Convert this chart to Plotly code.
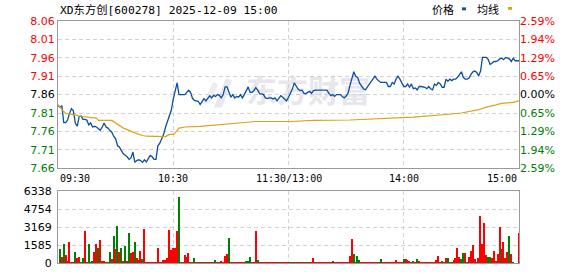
import plotly.graph_objects as go

# ---------------- data ----------------
TITLE = "XD东方创[600278] 2025-12-09 15:00"
PREV_CLOSE = 7.86
price_ticks = [7.66, 7.71, 7.76, 7.81, 7.86, 7.91, 7.96, 8.01, 8.06]
pct_labels = ["2.59%", "1.94%", "1.29%", "0.65%", "0.00%", "0.65%", "1.29%", "1.94%", "2.59%"]
vol_ticks = [0, 1585, 3169, 4754, 6338]
time_labels = ["09:30", "10:30", "11:30/13:00", "14:00", "15:00"]
time_label_min = [0, 60, 120, 180, 240]
legend_names = ["价格", "均线"]
watermark = "东方财富"

price = [
    7.831, 7.826, 7.830, 7.784, 7.784, 7.791, 7.809, 7.822, 7.816, 7.783,
    7.774, 7.800, 7.802, 7.793, 7.793, 7.791, 7.778, 7.783, 7.772, 7.774,
    7.772, 7.767, 7.763, 7.772, 7.783, 7.772, 7.769, 7.763, 7.758, 7.747,
    7.740, 7.721, 7.717, 7.708, 7.699, 7.695, 7.691, 7.684, 7.688, 7.704,
    7.676, 7.681, 7.683, 7.681, 7.676, 7.683, 7.677, 7.686, 7.695, 7.691,
    7.684, 7.684, 7.721, 7.728, 7.739, 7.752, 7.772, 7.787, 7.802, 7.818,
    7.848, 7.870, 7.892, 7.860, 7.860, 7.860, 7.860, 7.866, 7.872, 7.866,
    7.850, 7.844, 7.844, 7.842, 7.833, 7.840, 7.849, 7.843, 7.851, 7.857,
    7.851, 7.858, 7.855, 7.860, 7.858, 7.851, 7.860, 7.881, 7.881, 7.866,
    7.853, 7.860, 7.851, 7.855, 7.853, 7.860, 7.851, 7.860, 7.872, 7.881,
    7.866, 7.866, 7.871, 7.879, 7.872, 7.862, 7.862, 7.860, 7.851, 7.849,
    7.851, 7.851, 7.848, 7.851, 7.843, 7.849, 7.857, 7.853, 7.849, 7.843,
    7.853, 7.864, 7.875, 7.892, 7.884, 7.875, 7.871, 7.872, 7.864, 7.862,
    7.866, 7.869, 7.864, 7.871, 7.872, 7.872, 7.872, 7.872, 7.872, 7.872,
    7.872, 7.864, 7.857, 7.860, 7.855, 7.860, 7.860, 7.860, 7.855, 7.851,
    7.856, 7.864, 7.885, 7.902, 7.922, 7.910, 7.907, 7.891, 7.882, 7.876,
    7.873, 7.880, 7.887, 7.896, 7.900, 7.910, 7.902, 7.896, 7.893, 7.893,
    7.893, 7.893, 7.882, 7.882, 7.893, 7.889, 7.902, 7.910, 7.902, 7.893,
    7.882, 7.882, 7.889, 7.880, 7.889, 7.876, 7.878, 7.873, 7.882, 7.882,
    7.882, 7.880, 7.876, 7.882, 7.876, 7.873, 7.889, 7.885, 7.893, 7.889,
    7.880, 7.880, 7.902, 7.896, 7.902, 7.898, 7.902, 7.902, 7.907, 7.915,
    7.922, 7.907, 7.902, 7.902, 7.905, 7.915, 7.922, 7.924, 7.920, 7.911,
    7.924, 7.961, 7.961, 7.961, 7.955, 7.942, 7.946, 7.950, 7.950, 7.952,
    7.957, 7.959, 7.955, 7.961, 7.959, 7.957, 7.950, 7.959, 7.952, 7.952,
    7.952,
]

avg_min = [0, 2, 4, 7, 9, 11, 13, 16, 20, 21, 28, 30, 32, 34, 37, 40, 44, 46, 56, 58,
           60, 61, 63, 66, 74, 84, 90, 103, 121, 133, 152, 185, 202, 210, 219, 223, 228, 231, 237, 240]
avg_val = [7.833, 7.819, 7.809, 7.807, 7.805, 7.802, 7.800, 7.798, 7.796, 7.790,
           7.790, 7.783, 7.774, 7.769, 7.763, 7.756, 7.749, 7.747, 7.746, 7.752,
           7.752, 7.756, 7.769, 7.772, 7.774, 7.779, 7.781, 7.787, 7.787, 7.790,
           7.791, 7.799, 7.806, 7.810, 7.819, 7.826, 7.832, 7.836, 7.839, 7.843]

volume = [
    0, 1200, 510, 1710, 690, 140, 1860, 60, 60, 940,
    430, 510, 60, 400, 2830, 60, 1630, 60, 100, 1000,
    1630, 1280, 2060, 170, 170, 60, 60, 940, 340, 2400,
    1200, 3250, 940, 1280, 170, 1460, 100, 2650, 860, 940,
    1880, 430, 290, 1030, 340, 3000, 60, 60, 60, 60,
    60, 60, 1280, 60, 60, 230, 230, 430, 2910, 1110,
    1280, 1280, 2830, 5820, 60, 60, 690, 510, 860, 60,
    60, 430, 60, 60, 60, 60, 60, 60, 60, 60,
    60, 60, 230, 60, 60, 170, 60, 600, 770, 2230,
    60, 60, 60, 60, 60, 60, 60, 60, 170, 170,
    510, 60, 60, 2830, 260, 60, 60, 60, 60, 60,
    60, 60, 60, 60, 60, 60, 60, 60, 60, 60,
    60, 60, 60, 60, 60, 60, 60, 60, 60, 60,
    60, 60, 60, 430, 60, 60, 60, 60, 60, 60,
    60, 60, 60, 170, 60, 60, 60, 60, 60, 60,
    60, 60, 630, 2140, 800, 60, 600, 230, 60, 60,
    60, 60, 60, 60, 60, 60, 60, 60, 340, 60,
    60, 60, 60, 60, 60, 60, 230, 60, 60, 60,
    340, 340, 230, 110, 60, 140, 60, 340, 170, 60,
    60, 60, 60, 60, 60, 60, 60, 230, 600, 60,
    170, 60, 400, 400, 60, 60, 230, 400, 1280, 510,
    340, 860, 860, 60, 510, 1030, 1540, 340, 60, 430,
    4110, 1630, 3510, 690, 510, 510, 430, 1030, 170, 770,
    3170, 1200, 1800, 430, 940, 2400, 770, 60, 0, 0,
    2650,
]

vol_dir = list(
    "ududuuuuud" "uudduudddu" "uduuuuddud" "ududududuu" "duuuduuuuu"
    "uuuuuuuuuu" "uuududuuud" "uduuduuduu" "duduuuuuud" "uuuuuuuudd"
    "duuuduuuuu" "uuuuuduuuu" "udduuduuud" "uuuuuuuuuu" "uuuduuuuuu"
    "uuuududduu" "uuuuuuuddu" "uuuuuuuuuu" "duuuududuu" "uuuuuuuuuu"
    "duudduuuuu" "dduduuuudu" "uuuudduuuu" "uduuududuu" "u"
)

# ---------------- styling ----------------
RED = "#ff0000"
GREEN = "#008000"
BLACK = "#000000"
PRICE_COLOR = "#0b4ea2"
AVG_COLOR = "#dca21a"
GRID = "#d2d2d2"
BORDER = "#9a9a9a"
FONT = "DejaVu Sans, Verdana, sans-serif"
MONO = "DejaVu Sans Mono, Noto Sans CJK SC, monospace"
CJK = "Noto Sans CJK SC, sans-serif"

W, H = 578, 276
ML, MR, MT, MB = 58, 59, 21, 6
PW, PH = W - ML - MR, H - MT - MB


def px2x(px):
    return (px - ML) / PW


def py2y(py):
    return (H - MB - py) / PH


def side_color(v):
    if abs(v - PREV_CLOSE) < 1e-9:
        return BLACK
    return RED if v > PREV_CLOSE else GREEN


minutes = list(range(len(price)))
vol_x = list(range(len(volume)))
vol_colors = [RED if d == "u" else GREEN for d in vol_dir]

left_text = [f'<span style="color:{side_color(v)}">{v:.2f}</span>' for v in price_ticks]
right_text = [f'<span style="color:{side_color(v)}">{t}</span>' for v, t in zip(price_ticks, pct_labels)]

price_dom = [py2y(172.5), 1.0]
vol_dom = [0.0, py2y(196)]

fig = go.Figure()
fig.add_trace(go.Scatter(x=minutes, y=price, mode="lines",
                         line=dict(color=PRICE_COLOR, width=1.3),
                         xaxis="x", yaxis="y", hoverinfo="skip"))
fig.add_trace(go.Scatter(x=avg_min, y=avg_val, mode="lines",
                         line=dict(color=AVG_COLOR, width=1.2),
                         xaxis="x", yaxis="y", hoverinfo="skip"))
fig.add_trace(go.Scatter(x=[0], y=[PREV_CLOSE], mode="markers",
                         marker=dict(opacity=0), xaxis="x", yaxis="y3",
                         hoverinfo="skip"))
fig.add_trace(go.Bar(x=vol_x, y=volume, marker=dict(color=vol_colors, line=dict(width=0)),
                     width=0.7, xaxis="x2", yaxis="y2", hoverinfo="skip"))

grid_common = dict(showgrid=True, gridcolor=GRID, gridwidth=1, griddash="4px,3px",
                   zeroline=False, showline=True, mirror=True, linecolor=BORDER,
                   linewidth=1, ticks="")

fig.update_layout(
    width=W, height=H,
    margin=dict(l=ML, r=MR, t=MT, b=MB, pad=0),
    paper_bgcolor="white", plot_bgcolor="white",
    showlegend=False,
    bargap=0,
    xaxis=dict(domain=[0, 1], range=[0, 240], anchor="y",
               tickvals=[60, 120, 180], showticklabels=False, **grid_common),
    yaxis=dict(domain=price_dom, range=[7.66, 8.06], anchor="x",
               tickvals=price_ticks, ticktext=left_text,
               tickfont=dict(family=FONT, size=11), **grid_common),
    yaxis3=dict(overlaying="y", side="right", anchor="x", range=[7.66, 8.06],
                tickvals=price_ticks, ticktext=right_text,
                tickfont=dict(family=FONT, size=11),
                showgrid=False, zeroline=False, showline=False, ticks=""),
    xaxis2=dict(domain=[0, 1], range=[0, 240], anchor="y2",
                tickvals=[60, 120, 180], showticklabels=False, **grid_common),
    yaxis2=dict(domain=vol_dom, range=[0, 6338], anchor="x2",
                tickvals=vol_ticks, ticktext=[str(v) for v in vol_ticks],
                tickfont=dict(family=FONT, size=11, color=BLACK),
                ticklabelstandoff=3, **grid_common),
)

annotations = [
    dict(text=TITLE, xref="paper", yref="paper", x=px2x(58), y=py2y(9.5),
         xanchor="left", yanchor="middle", showarrow=False,
         font=dict(family=MONO, size=11.3, color=BLACK)),
    dict(text=legend_names[0], xref="paper", yref="paper", x=px2x(443), y=py2y(9),
         xanchor="center", yanchor="middle", showarrow=False,
         font=dict(family=CJK, size=11, color=BLACK)),
    dict(text=legend_names[1], xref="paper", yref="paper", x=px2x(488), y=py2y(9),
         xanchor="center", yanchor="middle", showarrow=False,
         font=dict(family=CJK, size=11, color=BLACK)),
]
for lab, m in zip(time_labels, time_label_min):
    anchor = "left" if m == time_label_min[0] else ("right" if m == time_label_min[-1] else "center")
    annotations.append(dict(text=lab, xref="x", yref="paper", x=m, y=py2y(183),
                            xanchor=anchor, yanchor="middle", showarrow=False,
                            font=dict(family=MONO, size=10, color=BLACK)))
fig.update_layout(annotations=annotations)

shapes = [
    dict(type="rect", xref="paper", yref="paper",
         x0=px2x(462), x1=px2x(466), y0=py2y(10), y1=py2y(7),
         fillcolor=PRICE_COLOR, line=dict(width=0)),
    dict(type="rect", xref="paper", yref="paper",
         x0=px2x(508), x1=px2x(512), y0=py2y(9.5), y1=py2y(6.5),
         fillcolor=AVG_COLOR, line=dict(width=0)),
    dict(type="rect", xref="paper", yref="paper", layer="between",
         x0=px2x(236), x1=px2x(380), y0=py2y(113), y1=py2y(79),
         fillcolor="rgba(0,0,0,0)", line=dict(width=0),
         label=dict(text=f"<b>{watermark}</b>", textposition="middle center",
                    font=dict(family=CJK, size=31, color="#e6e6ec"))),
    dict(type="path", xref="paper", yref="paper", layer="between",
         path=(f"M {px2x(214)} {py2y(110)} L {px2x(226)} {py2y(80)} "
               f"L {px2x(232)} {py2y(82)} L {px2x(222)} {py2y(110)} Z"),
         fillcolor="#e8e8ee", line=dict(width=0)),
    dict(type="path", xref="paper", yref="paper", layer="between",
         path=(f"M {px2x(203)} {py2y(106)} L {px2x(213)} {py2y(84)} "
               f"L {px2x(218)} {py2y(86)} L {px2x(210)} {py2y(106)} Z"),
         fillcolor="#ececf1", line=dict(width=0)),
]
fig.update_layout(shapes=shapes)

fig.write_html("out.html")
